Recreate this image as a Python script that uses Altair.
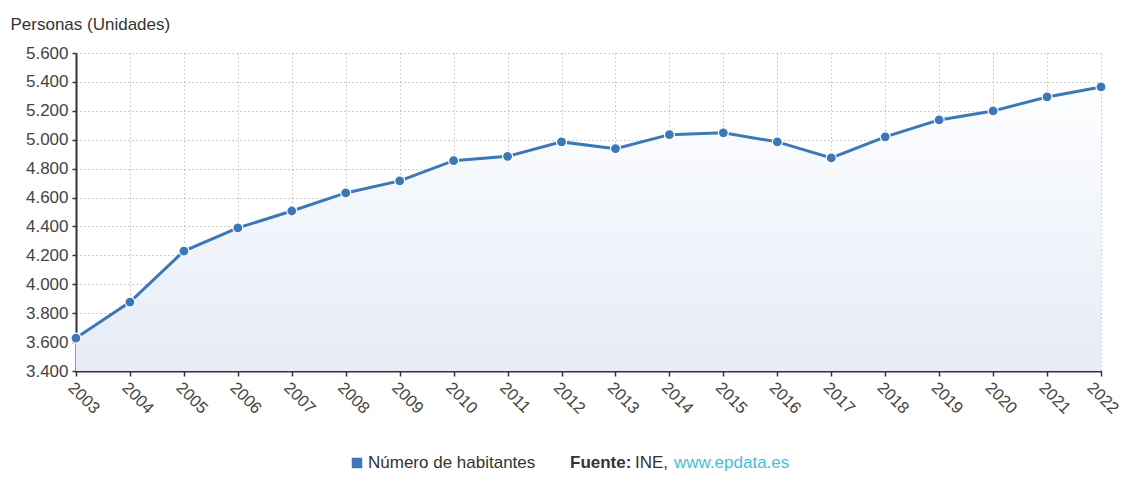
import altair as alt
import pandas as pd

years = [2003, 2004, 2005, 2006, 2007, 2008, 2009, 2010, 2011, 2012,
         2013, 2014, 2015, 2016, 2017, 2018, 2019, 2020, 2021, 2022]
habitantes = [3628, 3877, 4230, 4390, 4507, 4632, 4715, 4855, 4885, 4985,
              4938, 5035, 5048, 4985, 4874, 5020, 5137, 5199, 5296, 5365]
y_ticks = [3400, 3600, 3800, 4000, 4200, 4400, 4600, 4800, 5000, 5200, 5400, 5600]
y_title = "Personas (Unidades)"
legend_label = "Número de habitantes"
source_bold = "Fuente:"
source_name = "INE,"
source_link = "www.epdata.es"

df = pd.DataFrame({"year": years, "value": habitantes})

FONT = "Liberation Sans"
LINE = "#3b78b5"
FS = 17

x_enc = alt.X("year:Q",
              scale=alt.Scale(domain=[2003, 2022], nice=False, zero=False),
              axis=alt.Axis(values=years, format="d", labelAngle=45, labelAlign="left",
                            labelBaseline="top", labelFontSize=16.5, labelColor="#444",
                            labelFont=FONT, labelPadding=3, title=None,
                            labelOffset=alt.condition("datum.value == 2022",
                                                      alt.value(-6), alt.value(0)),
                            domainColor="#333", domainWidth=2, tickColor="#333",
                            tickSize=5, tickWidth=1.5, gridColor="#bdbdbd",
                            gridDash=[1.5, 2.5], gridWidth=1, labelOverlap=False))
y_scale = alt.Scale(domain=[3400, 5600], nice=False, zero=False)
y_enc = alt.Y("value:Q", scale=y_scale,
              axis=alt.Axis(values=y_ticks,
                            labelExpr="replace(format(datum.value, ',d'), ',', '.')",
                            labelFontSize=FS, labelColor="#444", labelFont=FONT,
                            labelPadding=4, title=y_title, titleAngle=0,
                            titleAlign="left", titleBaseline="middle",
                            titleX=-66, titleY=-29, titleFont=FONT,
                            titleFontSize=FS, titleFontWeight="normal",
                            titleColor="#333", domainColor="#333", domainWidth=2,
                            tickColor="#333", tickSize=4, tickWidth=1.5,
                            gridColor="#bdbdbd", gridDash=[1.5, 2.5], gridWidth=1))

base = alt.Chart(df)

area = base.mark_area(
    clip=True,
    color=alt.Gradient(gradient="linear",
                       stops=[alt.GradientStop(color="#fdfeff", offset=0),
                              alt.GradientStop(color="#e6ebf6", offset=1)],
                       x1=1, x2=1, y1=0, y2=1)
).encode(x=x_enc, y=y_enc, y2=alt.datum(3400))

line = base.mark_line(color=LINE, strokeWidth=3).encode(x=x_enc, y=y_enc)
points = base.mark_point(filled=True, color=LINE, size=100, opacity=1,
                         stroke="white", strokeWidth=1.2).encode(x=x_enc, y=y_enc)

leg_df = pd.DataFrame({"k": [0]})
TY = 410
sq = alt.Chart(leg_df).mark_square(color=LINE, size=110, opacity=1).encode(
    x=alt.value(281), y=alt.value(TY))
t1 = alt.Chart(leg_df).mark_text(align="left", baseline="middle", font=FONT,
                                 fontSize=FS, color="#333").encode(
    x=alt.value(292), y=alt.value(TY), text=alt.value(legend_label))
t2 = alt.Chart(leg_df).mark_text(align="left", baseline="middle", font=FONT,
                                 fontSize=FS, fontWeight="bold", color="#333").encode(
    x=alt.value(494), y=alt.value(TY), text=alt.value(source_bold))
t3 = alt.Chart(leg_df).mark_text(align="left", baseline="middle", font=FONT,
                                 fontSize=FS, color="#333").encode(
    x=alt.value(559), y=alt.value(TY), text=alt.value(source_name))
t4 = alt.Chart(leg_df).mark_text(align="left", baseline="middle", font=FONT,
                                 fontSize=FS, color="#45bfd6").encode(
    x=alt.value(598), y=alt.value(TY), text=alt.value(source_link))

chart = alt.layer(area, line, points, sq, t1, t2, t3, t4).properties(
    width=1025, height=318,
    padding={"left": 68, "top": 45, "right": 22, "bottom": 102},
    autosize=alt.AutoSizeParams(type="none"),
    background="white",
).configure_view(strokeWidth=0)

chart.save("out.html", embed_options={"renderer": "svg", "actions": False})
